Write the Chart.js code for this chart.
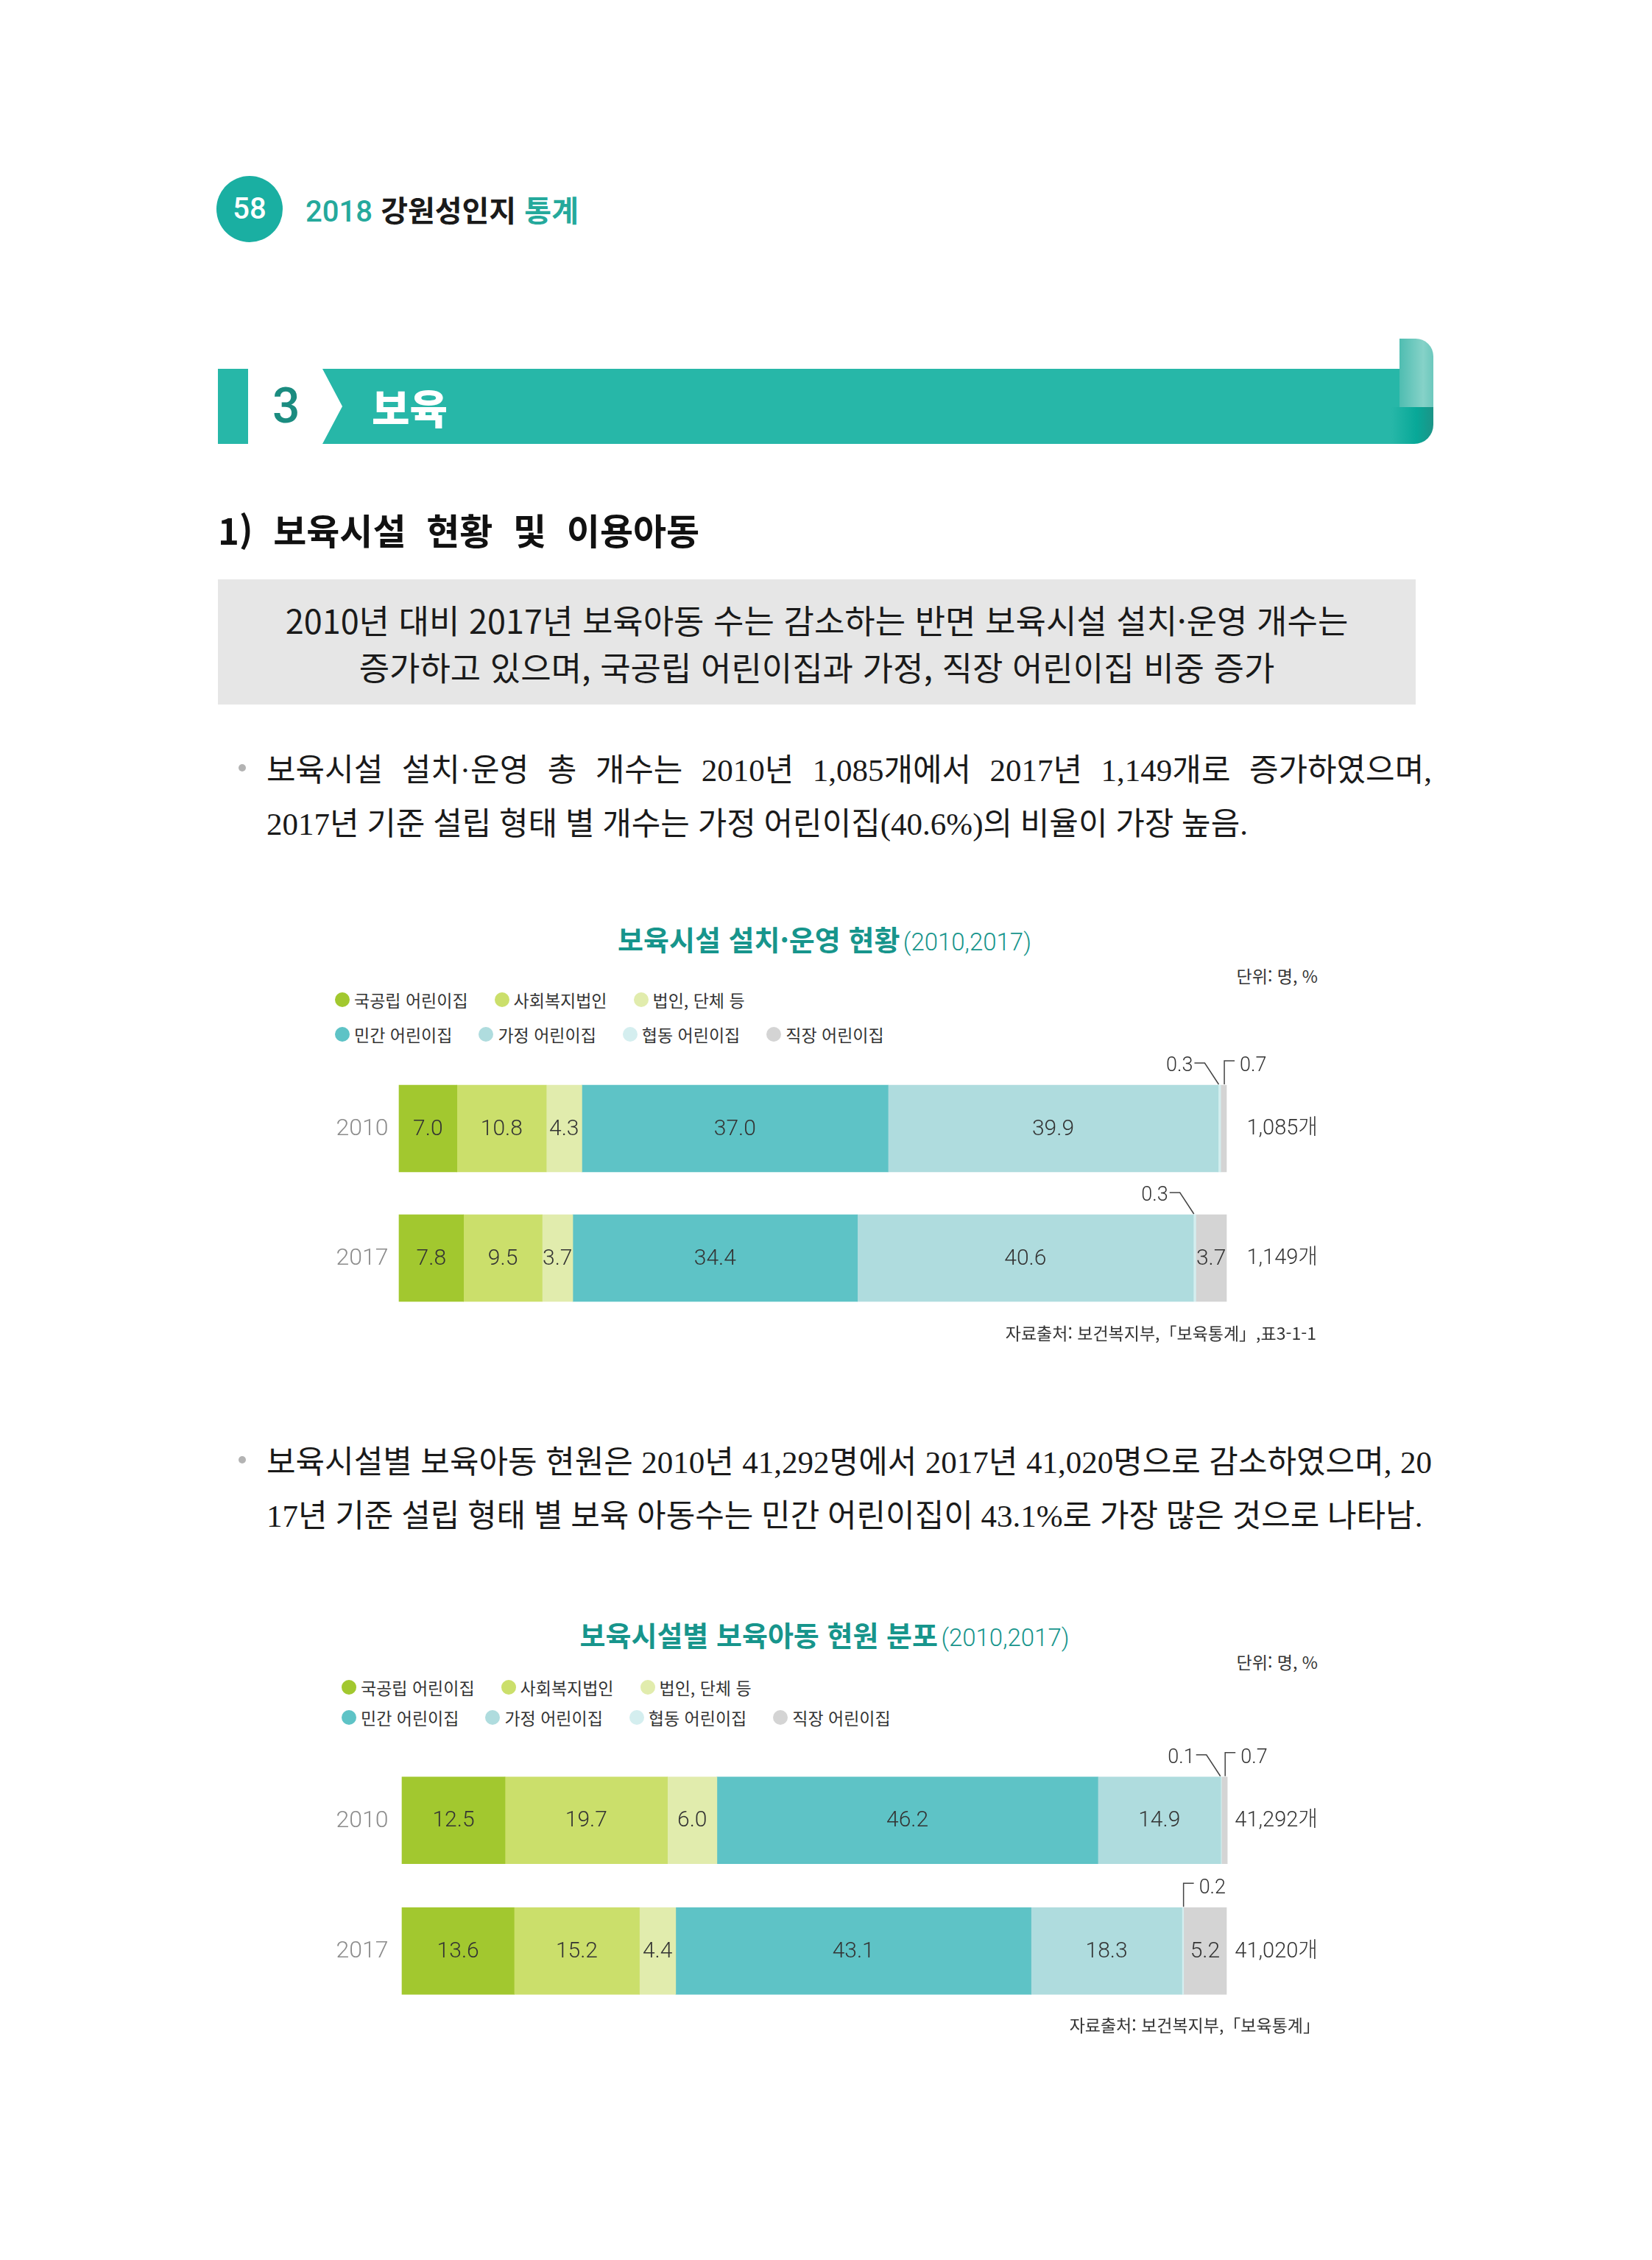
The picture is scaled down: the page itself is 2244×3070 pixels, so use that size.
<!DOCTYPE html>
<html lang="ko">
<head>
<meta charset="utf-8">
<script src="https://cdn.jsdelivr.net/npm/chart.js@4"></script>
<style>
body{margin:0;width:2244px;height:3070px;background:#fff;position:relative;overflow:hidden;font-family:"Noto Sans CJK KR",sans-serif;color:#1a1a1a}
.abs{position:absolute;white-space:nowrap}
.badge{left:294px;top:239px;width:90px;height:90px;border-radius:50%;background:#1aafa2;color:#fff;font:500 40px Roboto;line-height:90px;text-align:center}
.head{left:415px;top:260px;font-size:40px;line-height:48px;font-weight:700}
.teal{color:#25a99c}
.stripe{left:296px;top:501px;width:41px;height:102px;background:#27b7a8}
.band{left:337px;top:501px;width:1566px;height:102px;background:#27b7a8;clip-path:polygon(101px 0,100% 0,100% 100%,101px 100%,128px 51px)}
.three{left:370px;top:518px;font:500 66px Roboto;line-height:68px;color:#1b8c80}
.bo{left:505px;top:520px;font-size:56px;font-weight:900;color:#fff;line-height:64px}
.curlTop{left:1901px;top:460px;width:46px;height:110px;border-radius:0 24px 0 0;background:linear-gradient(90deg,#4fbdb1,#86d2c8 70%,#6cc8bd)}
.curlBot{left:1890px;top:553px;width:57px;height:50px;border-radius:0 0 26px 0;background:linear-gradient(90deg,#27b7a8,#08a898 60%,#1c9487)}
.sec{left:296px;top:693px;font-size:49px;font-weight:700;line-height:52px;word-spacing:14px;color:#111}
.box{left:296px;top:787px;width:1627px;height:170px;background:#e6e6e6;text-align:center;font-size:45px;line-height:64px;padding-top:23px;box-sizing:border-box;color:#1a1a1a}
.para{left:362px;width:1583px;font-family:"Liberation Serif","Noto Sans CJK KR",serif;font-size:43px;line-height:73px;color:#1a1a1a}
.just{text-align:justify;text-align-last:justify;white-space:normal}
.dot{width:10px;height:10px;border-radius:50%;background:#b3b3b3}
.title{left:0;width:2240px;text-align:center;color:#17958c;line-height:44px}
.title b{font-size:38px;font-weight:700}
.title span{font:300 33px Roboto}
.unit{right:454px;font-size:23px;line-height:30px;color:#333}
.legend{font-size:23px;line-height:30px;color:#333;display:flex;align-items:center}
.legend i{display:inline-block;width:20px;height:20px;border-radius:50%;margin-right:6px}
.legend span{margin-right:36px}
.src{font-size:23px;line-height:30px;color:#333}
canvas{position:absolute}
</style>
</head>
<body>
<div class="abs badge">58</div>
<div class="abs head"><span class="teal" style="font-family:Roboto;font-weight:500">2018</span> 강원성인지 <span class="teal">통계</span></div>

<div class="abs stripe"></div>
<div class="abs band"></div>
<div class="abs curlTop"></div>
<div class="abs curlBot"></div>
<div class="abs three">3</div>
<div class="abs bo">보육</div>

<div class="abs sec">1) 보육시설 현황 및 이용아동</div>

<div class="abs box">2010년 대비 2017년 보육아동 수는 감소하는 반면 보육시설 설치·운영 개수는<br>증가하고 있으며, 국공립 어린이집과 가정, 직장 어린이집 비중 증가</div>

<div class="abs dot" style="left:324px;top:1038px"></div>
<div class="abs para just" style="top:1010px">보육시설 설치·운영 총 개수는 2010년 1,085개에서 2017년 1,149개로 증가하였으며,</div>
<div class="abs para" style="top:1083px">2017년 기준 설립 형태 별 개수는 가정 어린이집(40.6%)의 비율이 가장 높음.</div>

<div class="abs title" style="top:1253px"><b>보육시설 설치·운영 현황</b> <span>(2010,2017)</span></div>
<div class="abs unit" style="top:1310px">단위: 명, %</div>
<div class="abs legend" id="leg1a" style="left:455px;top:1343px"></div>
<div class="abs legend" id="leg1b" style="left:455px;top:1390px"></div>
<canvas id="chart1" width="1440" height="400" style="left:400px;top:1420px"></canvas>
<div class="abs src" style="right:456px;top:1795px">자료출처: 보건복지부,「보육통계」,표3-1-1</div>

<div class="abs dot" style="left:324px;top:1978px"></div>
<div class="abs para just" style="top:1950px">보육시설별 보육아동 현원은 2010년 41,292명에서 2017년 41,020명으로 감소하였으며, 20</div>
<div class="abs para" style="top:2023px">17년 기준 설립 형태 별 보육 아동수는 민간 어린이집이 43.1%로 가장 많은 것으로 나타남.</div>

<div class="abs title" style="top:2198px"><b>보육시설별 보육아동 현원 분포</b> <span>(2010,2017)</span></div>
<div class="abs unit" style="top:2242px">단위: 명, %</div>
<div class="abs legend" id="leg2a" style="left:464px;top:2277px"></div>
<div class="abs legend" id="leg2b" style="left:464px;top:2318px"></div>
<canvas id="chart2" width="1440" height="400" style="left:400px;top:2360px"></canvas>
<div class="abs src" style="right:451px;top:2735px">자료출처: 보건복지부,「보육통계」</div>

<script>
const categories = ['국공립 어린이집', '사회복지법인', '법인, 단체 등', '민간 어린이집', '가정 어린이집', '협동 어린이집', '직장 어린이집'];
const colors = ['#a2c82f', '#cbdf6b', '#e1ecad', '#5ec3c6', '#afdcde', '#d4eeef', '#d4d4d4'];
const years = ['2010', '2017'];

// 보육시설 설치·운영 현황 (%)
const facilities2010 = [7.0, 10.8, 4.3, 37.0, 39.9, 0.3, 0.7];
const facilities2017 = [7.8, 9.5, 3.7, 34.4, 40.6, 0.3, 3.7];
const facilityTotals = ['1,085개', '1,149개'];

// 보육시설별 보육아동 현원 분포 (%)
const children2010 = [12.5, 19.7, 6.0, 46.2, 14.9, 0.1, 0.7];
const children2017 = [13.6, 15.2, 4.4, 43.1, 18.3, 0.2, 5.2];
const childTotals = ['41,292개', '41,020개'];

// legends, 3 items on the first row, 4 on the second
function fillLegend(id, from, to) {
    const el = document.getElementById(id);
    for (let k = from; k < to; k++) {
        el.innerHTML += '<i style="background:' + colors[k] + '"></i><span>' + categories[k] + '</span>';
    }
}
fillLegend('leg1a', 0, 3);
fillLegend('leg1b', 3, 7);
fillLegend('leg2a', 0, 3);
fillLegend('leg2b', 3, 7);

function makeChart(id, first, second, totals, notes, pad, yearGap) {
    const datasets = categories.map((c, k) => ({
        label: c,
        data: [first[k], second[k]],
        backgroundColor: colors[k],
        borderWidth: 0,
        barThickness: 118,
        clip: false
    }));

    const textPlugin = {
        id: 'barText',
        afterDatasetsDraw(chart) {
            const ctx = chart.ctx;
            const area = chart.chartArea;
            ctx.save();
            ctx.textBaseline = 'middle';

            chart.data.datasets.forEach((ds, d) => {
                chart.getDatasetMeta(d).data.forEach((bar, i) => {
                    const v = ds.data[i];
                    if (v < 1) return;
                    ctx.font = '300 30px Roboto';
                    ctx.fillStyle = '#333';
                    ctx.textAlign = 'center';
                    ctx.fillText(v.toFixed(1), (bar.base + bar.x) / 2, bar.y + 1);
                });
            });

            chart.getDatasetMeta(0).data.forEach((bar, i) => {
                ctx.font = '300 32px Roboto';
                ctx.fillStyle = '#8c8c8c';
                ctx.textAlign = 'center';
                ctx.fillText(chart.data.labels[i], area.left - yearGap, bar.y + 1);
                ctx.font = "300 29px Roboto, 'Noto Sans CJK KR'";
                ctx.fillStyle = '#333';
                ctx.textAlign = 'right';
                ctx.fillText(totals[i], area.right + 124, bar.y + 1);
            });

            // small values with leader lines
            ctx.font = '300 27px Roboto';
            ctx.strokeStyle = '#444';
            ctx.lineWidth = 1.5;
            notes.forEach(n => {
                const bar = chart.getDatasetMeta(n.ds).data[n.i];
                const v = chart.data.datasets[n.ds].data[n.i];
                const sx = (bar.base + bar.x) / 2;
                const top = bar.y - bar.height / 2;
                const ty = top - 26;
                ctx.beginPath();
                if (n.side === 'left') {
                    ctx.moveTo(sx - 34, ty - 4);
                    ctx.lineTo(sx - 20, ty - 4);
                    ctx.lineTo(sx - 1, top - 1);
                    ctx.stroke();
                    ctx.textAlign = 'right';
                    ctx.fillText(v.toFixed(1), sx - 36, ty);
                } else {
                    ctx.moveTo(sx + 1, top - 1);
                    ctx.lineTo(sx + 1, ty - 7);
                    ctx.lineTo(sx + 15, ty - 7);
                    ctx.stroke();
                    ctx.textAlign = 'left';
                    ctx.fillText(v.toFixed(1), sx + 22, ty);
                }
            });
            ctx.restore();
        }
    };

    return new Chart(document.getElementById(id).getContext('2d'), {
        type: 'bar',
        data: { labels: years, datasets: datasets },
        options: {
            indexAxis: 'y',
            responsive: false,
            animation: false,
            layout: { padding: pad },
            scales: {
                x: { stacked: true, min: 0, max: 100, display: false },
                y: { stacked: true, display: false }
            },
            plugins: { legend: { display: false }, tooltip: { enabled: false } }
        },
        plugins: [textPlugin]
    });
}

makeChart('chart1', facilities2010, facilities2017, facilityTotals,
    [{ ds: 5, i: 0, side: 'left' }, { ds: 6, i: 0, side: 'right' }, { ds: 5, i: 1, side: 'left' }],
    { left: 142, right: 174, top: 25, bottom: 23 }, 50);

makeChart('chart2', children2010, children2017, childTotals,
    [{ ds: 5, i: 0, side: 'left' }, { ds: 6, i: 0, side: 'right' }, { ds: 5, i: 1, side: 'right' }],
    { left: 146, right: 174, top: 24, bottom: 21 }, 54);
</script>
</body>
</html>
